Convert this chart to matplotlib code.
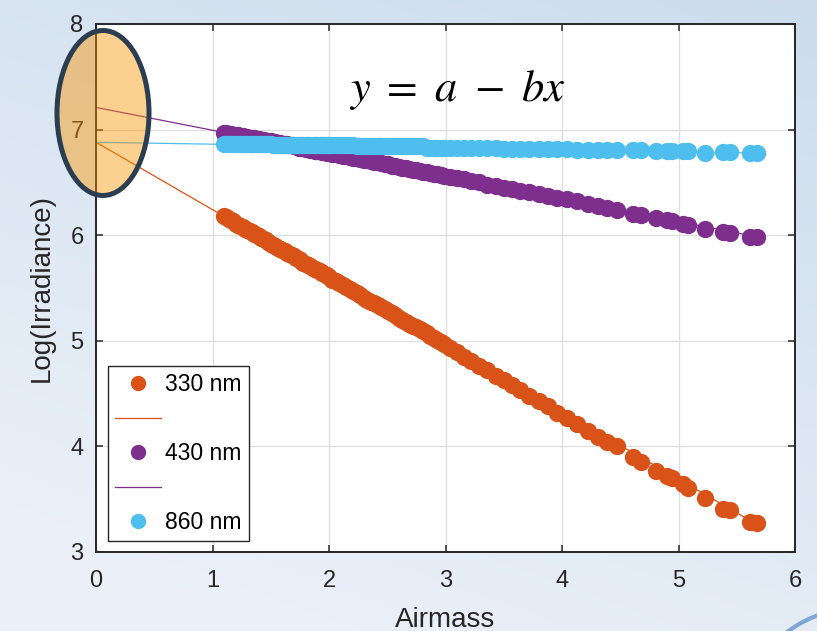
import numpy as np
import matplotlib
matplotlib.use("Agg")
import matplotlib.pyplot as plt
from matplotlib.patches import Ellipse, Arc
from matplotlib.lines import Line2D

plt.rcParams['font.family'] = ['Liberation Sans', 'DejaVu Sans']
plt.rcParams['mathtext.fontset'] = 'stix'

# airmass values
airmass = [1.10, 1.12, 1.14, 1.16, 1.18, 1.20, 1.22, 1.24, 1.26, 1.28, 1.30, 1.32,
           1.34, 1.36, 1.38, 1.40, 1.42, 1.44, 1.46, 1.48, 1.50, 1.52, 1.54, 1.56,
           1.58, 1.60, 1.62, 1.64, 1.66, 1.68, 1.70, 1.72, 1.74, 1.76, 1.78, 1.80,
           1.82, 1.84, 1.86, 1.88, 1.90, 1.92, 1.94, 1.96, 1.98, 2.00,
           2.03, 2.06, 2.09, 2.12, 2.15, 2.18, 2.21, 2.24, 2.27, 2.30, 2.33, 2.36,
           2.39, 2.42, 2.45, 2.48, 2.51, 2.54, 2.57, 2.60, 2.63, 2.66, 2.69, 2.72,
           2.75, 2.78, 2.81, 2.84, 2.87, 2.90, 2.93, 2.96, 2.99,
           3.04, 3.10, 3.16, 3.22, 3.29, 3.36, 3.43, 3.50, 3.57, 3.64, 3.72, 3.80,
           3.88, 3.96, 4.04, 4.13, 4.22, 4.31, 4.39,
           4.47, 4.61, 4.68, 4.81, 4.90, 4.94, 5.04, 5.08, 5.23, 5.38, 5.44, 5.61,
           5.67]

log_330 = [6.18, 6.17, 6.15, 6.14, 6.13, 6.11, 6.10, 6.09, 6.08, 6.06, 6.05, 6.04,
           6.03, 6.01, 6.00, 5.99, 5.97, 5.96, 5.95, 5.94, 5.92, 5.91, 5.90, 5.88,
           5.87, 5.86, 5.85, 5.83, 5.82, 5.81, 5.80, 5.78, 5.77, 5.76, 5.74, 5.73,
           5.72, 5.71, 5.69, 5.68, 5.67, 5.66, 5.64, 5.63, 5.62, 5.60,
           5.58, 5.57, 5.55, 5.53, 5.51, 5.49, 5.47, 5.45, 5.43, 5.41, 5.39, 5.37,
           5.36, 5.34, 5.32, 5.30, 5.28, 5.26, 5.24, 5.22, 5.20, 5.18, 5.16, 5.14,
           5.13, 5.11, 5.09, 5.07, 5.05, 5.03, 5.01, 4.99, 4.97,
           4.93, 4.89, 4.85, 4.81, 4.76, 4.72, 4.67, 4.63, 4.58, 4.53, 4.48, 4.43,
           4.38, 4.32, 4.27, 4.21, 4.15, 4.09, 4.04,
           4.00, 3.90, 3.85, 3.77, 3.72, 3.70, 3.64, 3.61, 3.51, 3.41, 3.40, 3.28,
           3.27]

log_430 = [6.97, 6.97, 6.96, 6.96, 6.95, 6.95, 6.95, 6.94, 6.94, 6.93, 6.93, 6.92,
           6.92, 6.92, 6.91, 6.91, 6.90, 6.90, 6.89, 6.89, 6.89, 6.88, 6.88, 6.87,
           6.87, 6.86, 6.86, 6.86, 6.85, 6.85, 6.84, 6.84, 6.83, 6.83, 6.83, 6.82,
           6.82, 6.81, 6.81, 6.80, 6.80, 6.80, 6.79, 6.79, 6.78, 6.78,
           6.77, 6.77, 6.76, 6.75, 6.75, 6.74, 6.73, 6.73, 6.72, 6.71, 6.71, 6.70,
           6.69, 6.69, 6.68, 6.67, 6.67, 6.66, 6.66, 6.65, 6.64, 6.64, 6.63, 6.62,
           6.62, 6.61, 6.60, 6.60, 6.59, 6.58, 6.58, 6.57, 6.56,
           6.55, 6.54, 6.53, 6.51, 6.50, 6.48, 6.47, 6.45, 6.44, 6.42, 6.41, 6.39,
           6.37, 6.35, 6.34, 6.32, 6.30, 6.28, 6.26,
           6.24, 6.20, 6.19, 6.16, 6.14, 6.13, 6.11, 6.10, 6.06, 6.03, 6.02, 5.98,
           5.98]

log_860 = [6.86, 6.86, 6.86, 6.86, 6.86, 6.86, 6.86, 6.86, 6.86, 6.86, 6.86, 6.86,
           6.86, 6.86, 6.86, 6.86, 6.86, 6.86, 6.86, 6.86, 6.86, 6.85, 6.85, 6.85,
           6.85, 6.85, 6.85, 6.85, 6.85, 6.85, 6.85, 6.85, 6.85, 6.85, 6.85, 6.85,
           6.85, 6.85, 6.85, 6.85, 6.85, 6.85, 6.85, 6.85, 6.85, 6.85,
           6.85, 6.85, 6.85, 6.85, 6.85, 6.85, 6.85, 6.84, 6.84, 6.84, 6.84, 6.84,
           6.84, 6.84, 6.84, 6.84, 6.84, 6.84, 6.84, 6.84, 6.84, 6.84, 6.84, 6.84,
           6.84, 6.84, 6.84, 6.83, 6.83, 6.83, 6.83, 6.83, 6.83,
           6.83, 6.83, 6.83, 6.83, 6.83, 6.83, 6.83, 6.82, 6.82, 6.82, 6.82, 6.82,
           6.82, 6.82, 6.82, 6.81, 6.81, 6.81, 6.81,
           6.81, 6.81, 6.81, 6.80, 6.80, 6.80, 6.80, 6.80, 6.78, 6.79, 6.79, 6.78,
           6.78]

# fitted lines y = a - b x
fit_a = [6.88, 7.21, 6.88]
fit_b = [0.638, 0.216, 0.018]

labels = ["330 nm", "430 nm", "860 nm"]
colors = ["#D95319", "#7E2F8E", "#4DBEEE"]

fig = plt.figure(figsize=(8.17, 6.31), dpi=100)

# slide background
bg = fig.add_axes([0, 0, 1, 1], zorder=-5)
yy, xx = np.mgrid[0:1:200j, 0:1:200j]
t = np.clip(0.75 * yy + 0.35 * (1 - xx), 0, 1)
top = np.array([0.80, 0.865, 0.93])
bot = np.array([0.925, 0.945, 0.975])
img = top[None, None, :] * (1 - t[..., None]) + bot[None, None, :] * t[..., None]
bg.imshow(img, extent=[0, 1, 0, 1], aspect='auto', origin='upper')
bg.set_axis_off()

ax = fig.add_axes([96 / 817, 1 - 552 / 631, 699 / 817, 528 / 631])
ax.set_facecolor("white")

series = [log_330, log_430, log_860]
handles = []
leg_labels = []
xfit = np.array([0, max(airmass)])
for ys, a, b, c, lab in zip(series, fit_a, fit_b, colors, labels):
    ax.plot(xfit, a - b * xfit, color=c, lw=0.9, zorder=2)
    ax.scatter(airmass, ys, s=155, color=c, linewidths=0, zorder=3)
    handles.append(Line2D([], [], ls='none', marker='o', ms=11, mec='none', color=c))
    leg_labels.append(lab)
    handles.append(Line2D([], [], color=c, lw=0.9))
    leg_labels.append("")
handles = handles[:-1]
leg_labels = leg_labels[:-1]

ax.set_xlim(0, 6)
ax.set_ylim(3, 8)
ax.set_xticks(range(0, 7))
ax.set_yticks(range(3, 9))
ax.grid(True, color="#dedede", lw=0.9)
ax.set_axisbelow(True)
ax.tick_params(direction='in', length=5, width=1.1, top=True, right=True,
               labelsize=17, colors="#262626", pad=9)
ax.tick_params(axis='x', pad=13)
for sp in ax.spines.values():
    sp.set_linewidth(1.4)
    sp.set_color("#262626")
ax.set_xlabel("Airmass", fontsize=20, color="#262626", labelpad=11)
ax.set_ylabel("Log(Irradiance)", fontsize=20, color="#262626", labelpad=11)

ax.text(3.10, 7.27, r"$y\ =\ a\ -\ bx$", fontsize=32, ha='center', va='baseline')

leg = ax.legend(handles, leg_labels, loc='lower left', bbox_to_anchor=(0.017, 0.021),
                borderaxespad=0, fontsize=16.5, handlelength=2.0, handletextpad=0.2,
                labelspacing=0.5, frameon=True, fancybox=False, borderpad=0.3)
leg.get_frame().set_edgecolor("#262626")
leg.get_frame().set_linewidth(1.0)
leg.get_frame().set_alpha(1)

# highlight ellipse around the intercepts
ell = Ellipse((103 / 817, 1 - 113 / 631), 92 / 817, 165 / 631,
              transform=fig.transFigure, facecolor=(0.98, 0.58, 0.0, 0.44),
              edgecolor="#2B3D50", lw=3.6, zorder=10)
fig.add_artist(ell)

arc = Arc((870 / 817, -60 / 631), 230 / 817, 170 / 631, theta1=95, theta2=175,
          transform=fig.transFigure, color="#7FA6D6", lw=3, zorder=10)
fig.add_artist(arc)

fig.savefig("out.png", dpi=100)
